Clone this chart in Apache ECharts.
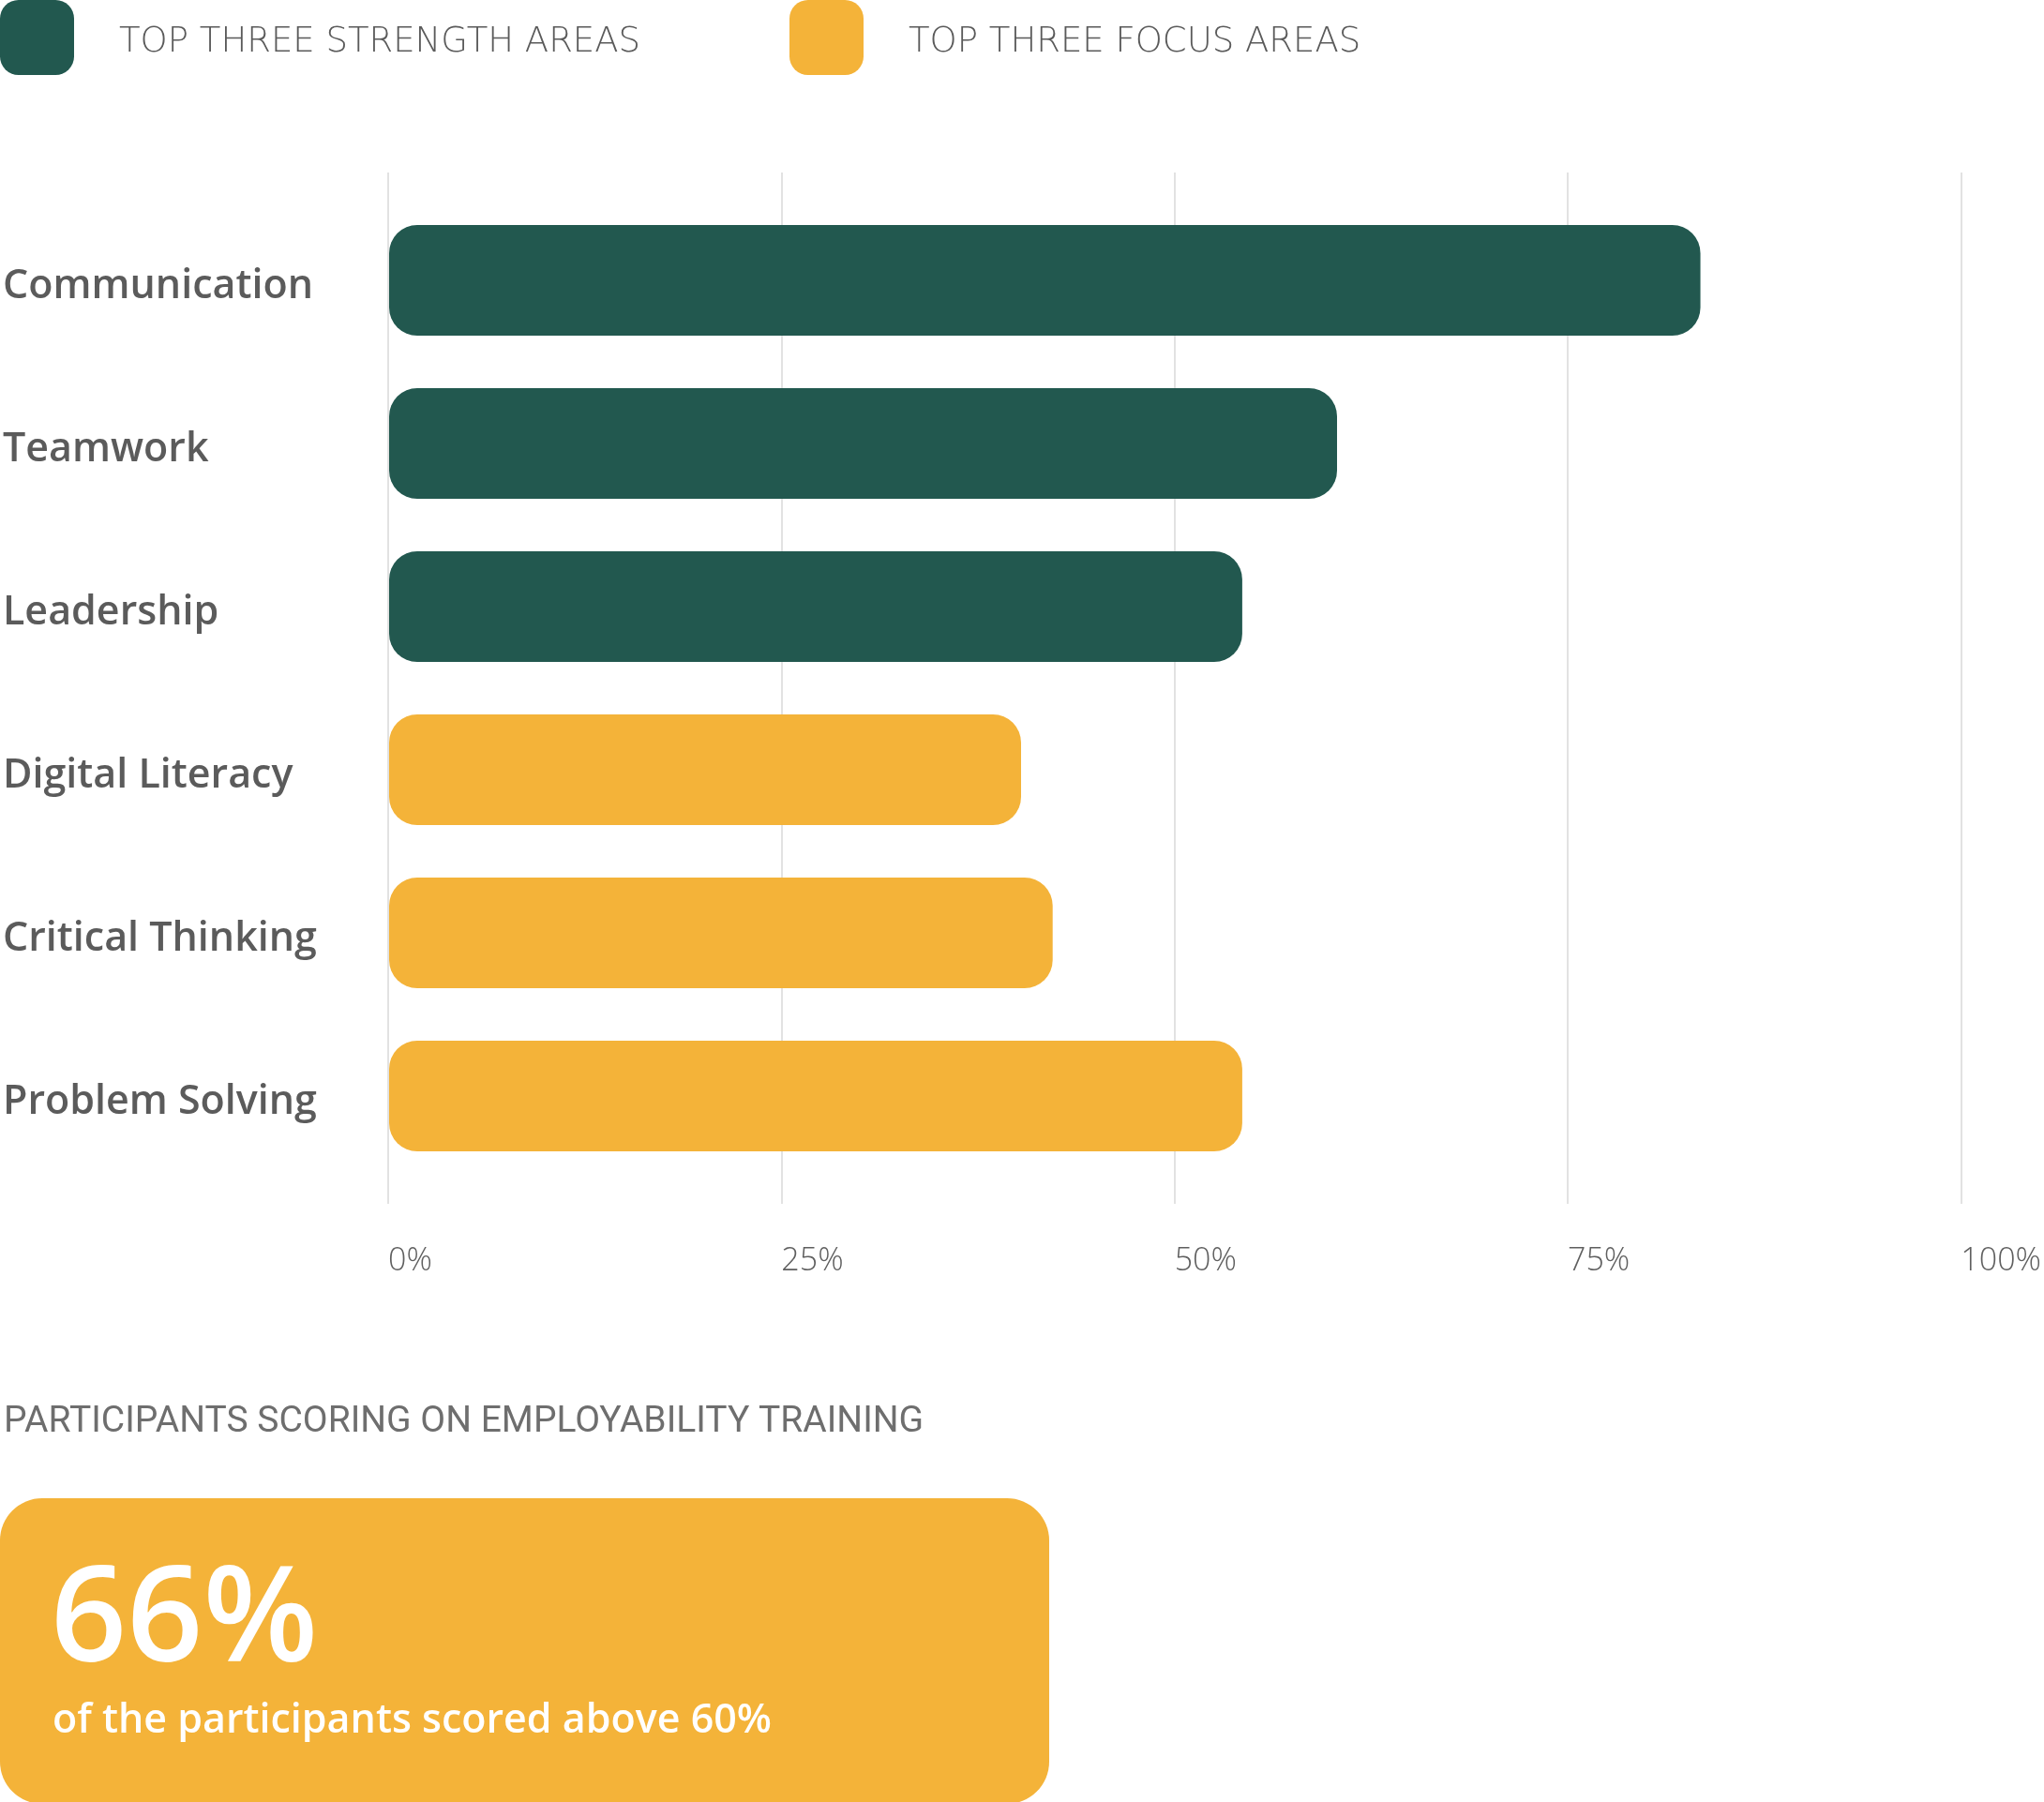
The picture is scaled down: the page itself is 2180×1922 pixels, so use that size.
<!DOCTYPE html>
<html>
<head>
<meta charset="utf-8">
<script src="https://cdn.jsdelivr.net/npm/echarts@6/dist/echarts.min.js"></script>
<style>
  html, body { margin: 0; padding: 0; background: #fff; }
  #chart { width: 2180px; height: 1922px; }
</style>
</head>
<body>
<div id="chart"></div>
<script>
const categories = ['Communication', 'Teamwork', 'Leadership', 'Digital Literacy', 'Critical Thinking', 'Problem Solving'];
const scores = [83, 60, 54, 40, 42, 54];
const groups = ['strength', 'strength', 'strength', 'focus', 'focus', 'focus'];
const legendNames = { strength: 'TOP THREE STRENGTH AREAS', focus: 'TOP THREE FOCUS AREAS' };
const xTicks = [0, 25, 50, 75, 100];

const summaryTitle = 'PARTICIPANTS SCORING ON EMPLOYABILITY TRAINING';
const summaryValue = '66%';
const summaryText = 'of the participants scored above 60%';

const GREEN = '#22584f';
const ORANGE = '#f4b339';

const chart = echarts.init(document.getElementById('chart'));

function groupData(name) {
  return scores.map((v, i) => (groups[i] === name ? v : '-'));
}

const legendText = {
  rich: {
    t: {
      fontFamily: 'DejaVu Sans',
      fontWeight: 200,
      fontSize: 37,
      color: '#5a5a5a',
      padding: [11, 0, 0, 43]
    }
  }
};

function legendAt(left, name) {
  return {
    left: left, top: 0, padding: 0,
    icon: 'roundRect',
    itemWidth: 79, itemHeight: 80,
    data: [name],
    formatter: '{t|{name}}',
    textStyle: legendText,
    selectedMode: false
  };
}

chart.setOption({
  animation: false,
  legend: [
    legendAt(0, legendNames.strength),
    legendAt(842, legendNames.focus)
  ],
  grid: [
    // grid lines + tick labels
    { left: 414, width: 1686, top: 184, height: 1100 },
    // bars
    { left: 414, width: 1686, top: 212, height: 1044 }
  ],
  xAxis: [
    {
      gridIndex: 0,
      type: 'value',
      min: xTicks[0],
      max: xTicks[xTicks.length - 1],
      interval: 25,
      axisLine: { show: false },
      axisTick: { show: false },
      splitLine: { lineStyle: { color: '#d9d9d9', width: 1.5 } },
      axisLabel: {
        align: 'left',
        margin: 44,
        fontFamily: 'Open Sans',
        fontWeight: 300,
        fontSize: 34,
        color: '#5f5f5f',
        formatter: '{value}%'
      }
    },
    {
      gridIndex: 1,
      type: 'value',
      min: 0,
      max: 100,
      show: false
    }
  ],
  yAxis: [
    { gridIndex: 0, type: 'value', show: false },
    {
      gridIndex: 1,
      type: 'category',
      inverse: true,
      data: categories,
      axisLine: { show: false },
      axisTick: { show: false },
      axisLabel: {
        align: 'left',
        margin: 412,
        formatter: '{c|{value}}',
        rich: {
          c: {
            padding: [14, 0, 0, 0],
            fontFamily: 'Open Sans',
            fontWeight: 600,
            fontSize: 43,
            color: '#5b5b5b'
          }
        }
      }
    }
  ],
  series: [
    {
      name: legendNames.strength,
      type: 'bar',
      xAxisIndex: 1,
      yAxisIndex: 1,
      barWidth: 118,
      barGap: '-100%',
      itemStyle: { color: GREEN, borderRadius: 30 },
      data: groupData('strength')
    },
    {
      name: legendNames.focus,
      type: 'bar',
      xAxisIndex: 1,
      yAxisIndex: 1,
      barWidth: 118,
      barGap: '-100%',
      itemStyle: { color: ORANGE, borderRadius: 30 },
      data: groupData('focus')
    }
  ],
  graphic: [
    {
      type: 'text',
      left: 4, top: 1498,
      style: {
        text: summaryTitle,
        fontFamily: 'Roboto',
        fontWeight: 400,
        fontSize: 39,
        fill: '#6e6e6e'
      }
    },
    {
      type: 'rect',
      shape: { x: 0, y: 1598, width: 1119, height: 326, r: 45 },
      style: { fill: ORANGE }
    },
    {
      type: 'text',
      style: {
        text: summaryValue,
        x: 54, y: 1732,
        verticalAlign: 'middle',
        fontFamily: 'Open Sans',
        fontWeight: 600,
        fontSize: 142,
        fill: '#ffffff'
      }
    },
    {
      type: 'text',
      style: {
        text: summaryText,
        x: 56, y: 1836,
        verticalAlign: 'middle',
        fontFamily: 'Open Sans',
        fontWeight: 600,
        fontSize: 43,
        fill: '#ffffff'
      }
    }
  ]
});
</script>
</body>
</html>
